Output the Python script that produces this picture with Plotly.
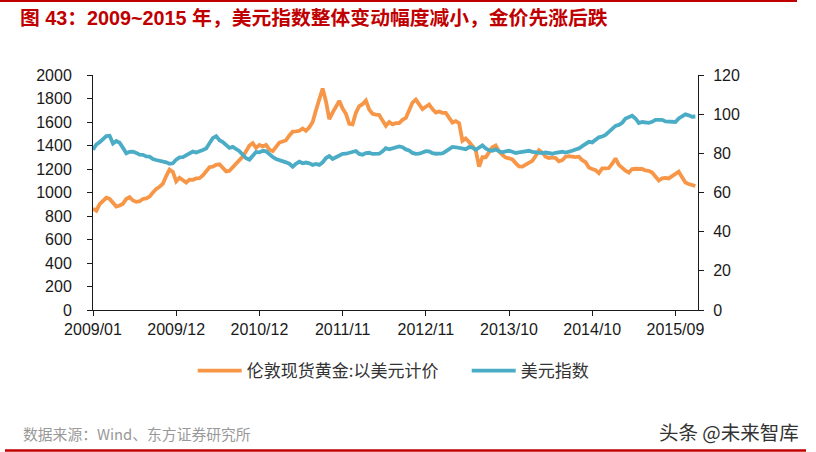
import pandas as pd
import plotly.graph_objects as go

# ---------------- data (~2-week samples) ----------------
start_date = "2009-01-02"
sample_freq = "14D"

gold = [
    863, 845, 900, 930, 955, 945, 915, 880, 890, 905,
    945, 960, 932, 920, 925, 945, 950, 965, 1000, 1030,
    1048, 1075, 1140, 1195, 1175, 1095, 1125, 1100, 1085, 1110,
    1108, 1120, 1122, 1145, 1180, 1215, 1220, 1235, 1240, 1210,
    1180, 1185, 1215, 1238, 1265, 1305, 1350, 1400, 1420, 1380,
    1405, 1392, 1405, 1365, 1352, 1385, 1425, 1434, 1445, 1485,
    1518, 1520, 1525, 1545, 1525, 1555, 1600, 1700, 1800, 1885,
    1775, 1625, 1680, 1725, 1780, 1715, 1670, 1585, 1580, 1680,
    1735, 1752, 1782, 1705, 1670, 1663, 1660, 1612, 1568, 1600,
    1580, 1590, 1591, 1618, 1635, 1700, 1765, 1790, 1755, 1710,
    1730, 1748, 1710, 1680, 1690, 1678, 1677, 1640, 1595, 1608,
    1590, 1440, 1460, 1430, 1395, 1360, 1220, 1300, 1300, 1338,
    1385, 1400, 1350, 1320, 1298, 1291, 1282, 1250, 1222, 1220,
    1236, 1255, 1270, 1310, 1360, 1340, 1305, 1293, 1298, 1293,
    1265, 1275, 1305, 1310, 1304, 1302, 1305, 1275, 1258, 1212,
    1200, 1190, 1165, 1205, 1205, 1208, 1245, 1290, 1235, 1208,
    1185, 1170, 1200, 1202, 1205, 1200, 1188, 1185, 1170, 1135,
    1102, 1120, 1125, 1120, 1140, 1160, 1177, 1130, 1085, 1072,
    1063, 1055,
]

dollar = [
    81.8, 84.5, 85.7, 87.0, 88.8, 89.0, 85.0, 86.3, 85.4, 82.8,
    80.0, 80.8, 80.9, 80.2, 79.3, 79.2, 78.4, 78.3, 77.1, 76.6,
    76.3, 75.9, 75.4, 74.7, 74.9, 76.8, 77.9, 78.0, 79.1, 80.3,
    80.9, 80.4, 80.9, 81.7, 82.5, 85.6, 87.8, 88.8, 86.7, 85.7,
    84.0, 82.8, 83.3, 82.4, 81.1, 79.3, 77.5, 76.8, 79.0, 80.7,
    80.5, 81.3, 81.0, 79.4, 78.1, 77.1, 76.6, 76.3, 75.4, 74.7,
    73.2, 74.7, 75.7, 74.9, 75.3, 74.9, 74.1, 74.6, 74.1, 75.4,
    77.6, 78.6, 77.1, 78.0, 78.8, 79.7, 79.8, 80.4, 80.9, 81.2,
    79.7, 79.3, 80.1, 80.3, 79.7, 79.7, 79.8, 81.0, 82.6, 82.1,
    82.6, 83.1, 83.5, 83.1, 82.0, 81.5, 80.2, 79.7, 79.8, 80.4,
    81.1, 81.0, 80.1, 79.8, 79.9, 80.0, 81.0, 82.3, 83.3, 83.1,
    82.6, 82.3, 82.1, 83.2, 83.0, 81.8, 83.0, 84.0, 82.5, 81.6,
    81.3, 82.0, 81.1, 80.5, 81.0, 81.3, 80.8, 80.2, 80.5, 80.9,
    81.0, 81.3, 80.8, 80.4, 80.4, 80.1, 80.4, 80.0, 79.8, 80.3,
    80.6, 80.8, 80.4, 80.7, 81.3, 82.0, 82.5, 83.7, 84.7, 85.9,
    85.6, 87.0, 88.2, 88.6, 89.4, 91.0, 92.8, 94.0, 94.5, 95.6,
    97.8, 98.5, 99.2, 97.8, 95.5, 96.0, 95.8, 95.6, 96.1, 97.1,
    97.1, 97.1, 96.3, 96.1, 95.8, 96.0, 97.8, 99.1, 99.9, 99.4,
    98.7, 98.8,
]

tick_labels = ["2009/01", "2009/12", "2010/12", "2011/11",
               "2012/11", "2013/10", "2014/10", "2015/09"]
tick_step = "350D"

series_names = ["伦敦现货黄金:以美元计价", "美元指数"]

# ---------------- figure ----------------
dates = pd.date_range(start_date, periods=len(gold), freq=sample_freq)
tick_dates = pd.date_range(start_date, periods=len(tick_labels), freq=tick_step)
x_end = pd.Timestamp(start_date) + pd.Timedelta(days=2545)

ORANGE = "#F79646"
BLUE = "#4BACC6"
RED = "#C00000"
AX = "#1a1a1a"
NUM_FONT = "Liberation Sans, Arial, sans-serif"
CJK_FONT = "Noto Sans CJK SC, sans-serif"

fig = go.Figure()
fig.add_trace(go.Scatter(x=dates, y=gold, name=series_names[0], mode="lines",
                         line=dict(color=ORANGE, width=3.8), yaxis="y"))
fig.add_trace(go.Scatter(x=dates, y=dollar, name=series_names[1], mode="lines",
                         line=dict(color=BLUE, width=3.8), yaxis="y2"))

W, H = 816, 452
L, R, T, B = 93, 118, 75, 142
pw, ph = W - L - R, H - T - B


def px(xp):
    return (xp - L) / pw


def py(yp):
    return (H - B - yp) / ph


fig.update_layout(
    width=W, height=H,
    margin=dict(l=L, r=R, t=T, b=B, pad=0),
    paper_bgcolor="white", plot_bgcolor="white",
    showlegend=True,
    legend=dict(orientation="h", x=px(192.7), xanchor="left",
                y=py(371), yanchor="middle",
                font=dict(family=CJK_FONT, size=17, color="#333333"),
                itemwidth=44, entrywidth=215, bgcolor="rgba(0,0,0,0)",
                tracegroupgap=0),
    title=dict(text="图 43：2009~2015 年，美元指数整体变动幅度减小，金价先涨后跌",
               x=20 / W, xanchor="left", xref="container",
               y=1 - 18.5 / H, yanchor="middle", yref="container",
               font=dict(family="Liberation Sans, Noto Sans CJK SC, sans-serif",
                         size=19.8, color=RED, weight="bold")),
    xaxis=dict(type="date", range=[pd.Timestamp(start_date), x_end],
               tickmode="array", tickvals=tick_dates, ticktext=tick_labels,
               showgrid=False, zeroline=False, showline=True, linecolor=AX,
               linewidth=1, ticks="outside", ticklen=5, tickcolor=AX,
               tickfont=dict(family=NUM_FONT, size=16, color=AX)),
    yaxis=dict(range=[0, 2000], dtick=200, tick0=0, showgrid=False,
               zeroline=False, showline=True, linecolor=AX, linewidth=1,
               ticks="outside", ticklen=5, tickcolor=AX, ticklabelstandoff=12,
               tickfont=dict(family=NUM_FONT, size=16, color=AX)),
    yaxis2=dict(range=[0, 120], dtick=20, tick0=0, overlaying="y", side="right",
                showgrid=False, zeroline=False, showline=True, linecolor=AX,
                linewidth=1, ticks="outside", ticklen=5, tickcolor=AX,
                ticklabelstandoff=6,
                tickfont=dict(family=NUM_FONT, size=16, color=AX)),
    shapes=[
        dict(type="line", xref="paper", yref="paper", x0=px(0), x1=px(797),
             y0=py(1), y1=py(1), line=dict(color=RED, width=2)),
        dict(type="line", xref="paper", yref="paper", x0=px(5), x1=px(806),
             y0=py(450.5), y1=py(450.5), line=dict(color=RED, width=2.5)),
    ],
    annotations=[
        dict(text="数据来源：Wind、东方证券研究所", xref="paper", yref="paper",
             x=px(21), y=py(433), xanchor="left", yanchor="middle",
             showarrow=False,
             font=dict(family="Noto Sans CJK SC, sans-serif", size=14.8,
                       color="#999999")),
        dict(text="头条 @未来智库", xref="paper", yref="paper",
             x=px(801), y=py(431), xanchor="right", yanchor="middle",
             showarrow=False,
             font=dict(family="Noto Sans CJK SC, sans-serif", size=19.5,
                       color="#333333")),
    ],
)

fig.write_html("out.html")
